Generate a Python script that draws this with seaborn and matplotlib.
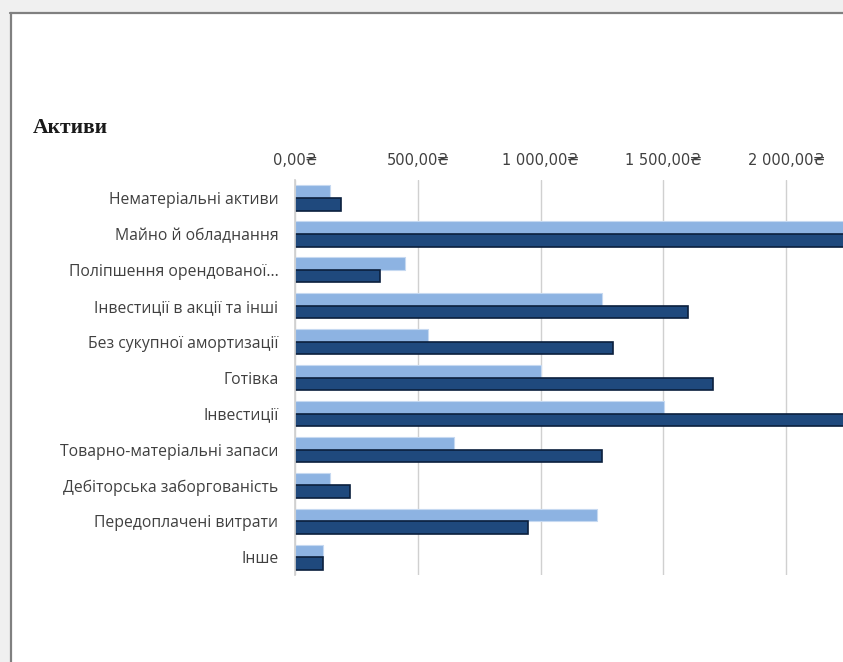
import pandas as pd
import matplotlib
matplotlib.use("Agg")
import matplotlib.pyplot as plt
import seaborn as sns
from matplotlib.ticker import FuncFormatter
from matplotlib.lines import Line2D
from matplotlib.patches import Rectangle

# data (bars for "Майно й обладнання" and dark "Інвестиції" run off the edge)
categories = [
    "Нематеріальні активи",
    "Майно й обладнання",
    "Поліпшення орендованої...",
    "Інвестиції в акції та інші",
    "Без сукупної амортизації",
    "Готівка",
    "Інвестиції",
    "Товарно-матеріальні запаси",
    "Дебіторська заборгованість",
    "Передоплачені витрати",
    "Інше",
]
series_names = ["Рік 1", "Рік 2"]
values_light = [142, 2400, 448, 1250, 543, 1000, 1502, 646, 142, 1231, 114]
values_dark = [187, 2500, 346, 1600, 1293, 1703, 2300, 1250, 225, 950, 114]

df = pd.DataFrame({
    "Категорія": categories * 2,
    "Серія": [series_names[0]] * len(categories) + [series_names[1]] * len(categories),
    "Сума": values_light + values_dark,
})

sns.set_theme(style="white")
plt.rcParams["font.family"] = ["Open Sans", "DejaVu Sans"]

fig = plt.figure(figsize=(8.43, 6.62), dpi=100)

# frame of the screenshot: grey strips and border lines
fig.patches.append(Rectangle((0, 0.982), 1, 0.018, transform=fig.transFigure,
                             facecolor="#f0f0f0", edgecolor="none", zorder=-1))
fig.patches.append(Rectangle((0, 0), 0.012, 1, transform=fig.transFigure,
                             facecolor="#f0f0f0", edgecolor="none", zorder=-1))
fig.lines.append(Line2D([0.012, 1], [0.980, 0.980], transform=fig.transFigure,
                        color="#808080", lw=1.6))
fig.lines.append(Line2D([0.013, 0.013], [0, 0.980], transform=fig.transFigure,
                        color="#808080", lw=1.6))

ax = fig.add_axes([0.35, 0.131, 0.65, 0.597])
light = "#8db3e2"
dark = "#1f497d"
sns.barplot(data=df, y="Категорія", x="Сума", hue="Серія", order=categories,
            hue_order=series_names, palette=[light, dark], orient="h",
            width=0.7, saturation=1, ax=ax, legend=False)

n = len(categories)
for i, p in enumerate(ax.patches[:2 * n]):
    if i < n:
        p.set_edgecolor("#c6d9f1")
        p.set_linewidth(0.8)
    else:
        p.set_edgecolor("#0b1f3d")
        p.set_linewidth(1.2)

ax.set_xlim(0, 2231)
ax.set_xticks([0, 500, 1000, 1500, 2000])
ax.xaxis.set_major_formatter(FuncFormatter(
    lambda v, pos: f"{v:,.2f}".replace(",", " ").replace(".", ",") + "₴"))
ax.xaxis.tick_top()
ax.set_xlabel("")
ax.set_ylabel("")
ax.grid(axis="x", color="#d0d0d0", lw=1)
ax.set_axisbelow(True)
for s in ["top", "right", "bottom"]:
    ax.spines[s].set_visible(False)
ax.spines["left"].set_color("#d0d0d0")
ax.tick_params(axis="x", length=0, pad=9, labelsize=10.5, labelcolor="#404040")
ax.tick_params(axis="y", length=0, pad=12, labelsize=11.3, labelcolor="#404040")
for lbl in ax.get_xticklabels():
    lbl.set_family(["DejaVu Sans"])

fig.text(0.039, 0.799, "Активи", fontsize=15.5, fontweight="bold",
         family=["Liberation Serif", "DejaVu Serif"], color="#1a1a1a")

fig.savefig("out.png", dpi=100)
